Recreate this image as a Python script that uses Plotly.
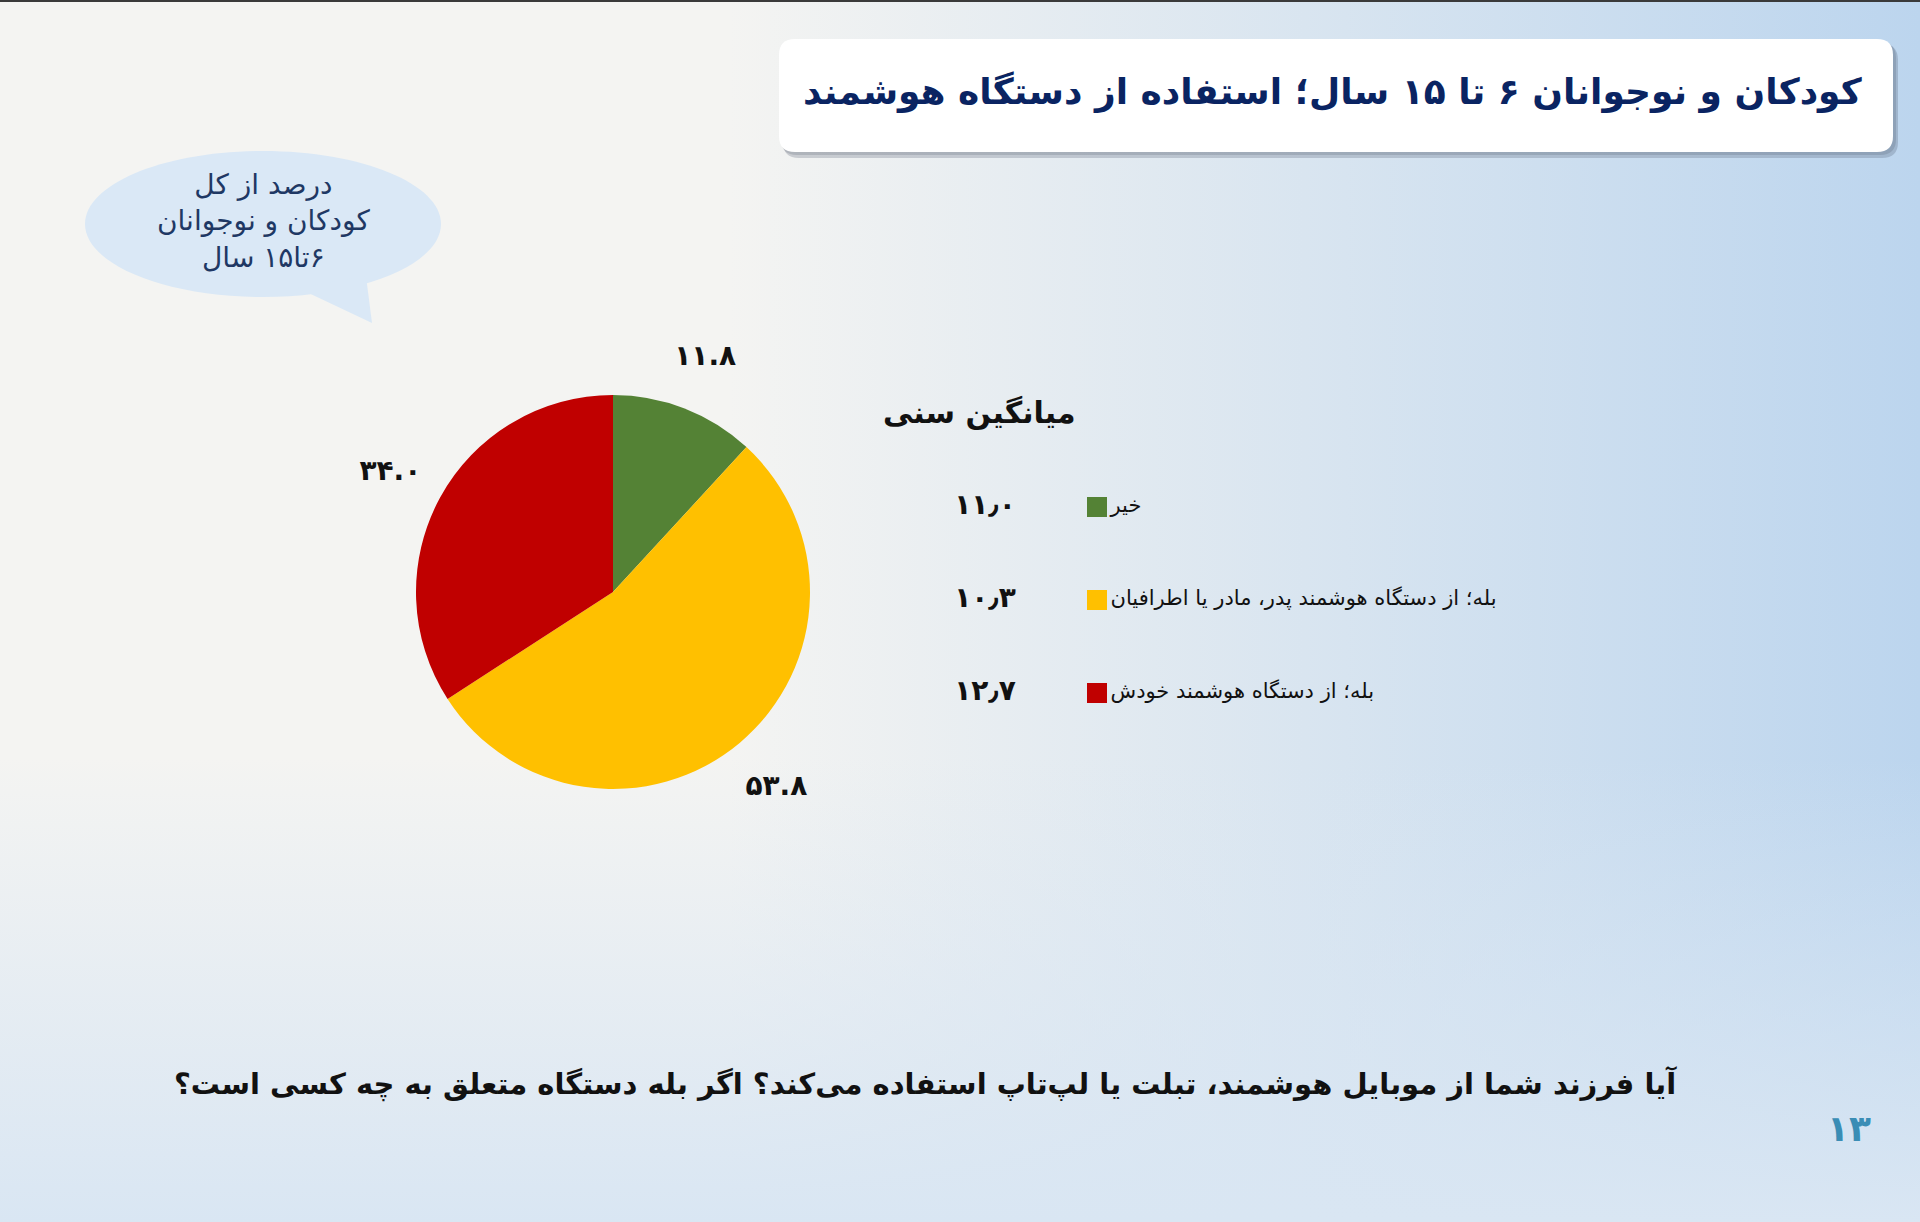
import base64
import plotly.graph_objects as go

# ---------------- data ----------------
categories = ["خیر", "بله؛ از دستگاه هوشمند پدر، مادر یا اطرافیان", "بله؛ از دستگاه هوشمند خودش"]
shares = [11.8, 53.8, 34.0]          # percent of all children aged 6-15
mean_age = [11.0, 10.3, 12.7]        # mean age per group
colors = ["#548235", "#FFC000", "#C00000"]

title_text = "کودکان و نوجوانان ۶ تا ۱۵ سال؛ استفاده از دستگاه هوشمند"
bubble_lines = ["درصد از کل", "کودکان و نوجوانان", "۶تا۱۵ سال"]
age_header = "میانگین سنی"
question_text = "آیا فرزند شما از موبایل هوشمند، تبلت یا لپ‌تاپ استفاده می‌کند؟ اگر بله دستگاه متعلق به چه کسی است؟"
page_number = "۱۳"

RLM = "\u200f"
FA = str.maketrans("0123456789", "۰۱۲۳۴۵۶۷۸۹")


def fa(s):
    return s.translate(FA)


pie_text = [fa(f"{v:.1f}") for v in shares]
age_text = [fa(f"{v:.1f}").replace(".", "٫") for v in mean_age]

W, H = 1920, 1222


def X(px):
    return px / W


def Y(py):
    return 1 - py / H


def rrect_path(x0, y0, x1, y1, r):
    pts = [
        ("M", (x0 + r, y0)), ("L", (x1 - r, y0)), ("Q", (x1, y0, x1, y0 + r)),
        ("L", (x1, y1 - r)), ("Q", (x1, y1, x1 - r, y1)), ("L", (x0 + r, y1)),
        ("Q", (x0, y1, x0, y1 - r)), ("L", (x0, y0 + r)), ("Q", (x0, y0, x0 + r, y0)),
    ]
    out = []
    for cmd, c in pts:
        conv = []
        for i in range(0, len(c), 2):
            conv.append(f"{X(c[i]):.5f},{Y(c[i+1]):.5f}")
        out.append(cmd + " ".join(conv))
    return " ".join(out) + " Z"


def ellipse_path(cx, cy, rx, ry):
    k = 0.5523
    segs = [
        ((cx + rx, cy), None),
        ((cx + rx, cy + k * ry), (cx + k * rx, cy + ry), (cx, cy + ry)),
        ((cx - k * rx, cy + ry), (cx - rx, cy + k * ry), (cx - rx, cy)),
        ((cx - rx, cy - k * ry), (cx - k * rx, cy - ry), (cx, cy - ry)),
        ((cx + k * rx, cy - ry), (cx + rx, cy - k * ry), (cx + rx, cy)),
    ]
    p = f"M{X(segs[0][0][0]):.5f},{Y(segs[0][0][1]):.5f}"
    for s in segs[1:]:
        p += " C" + " ".join(f"{X(a):.5f},{Y(b):.5f}" for a, b in s)
    return p + " Z"


def poly_path(points):
    return "M" + " L".join(f"{X(a):.5f},{Y(b):.5f}" for a, b in points) + " Z"


# ---------------- background ----------------
svg = f"""<svg xmlns='http://www.w3.org/2000/svg' width='{W}' height='{H}' preserveAspectRatio='none'>
<defs>
<linearGradient id='h' x1='0' y1='0' x2='1' y2='0'>
<stop offset='0' stop-color='#BCD5EE' stop-opacity='0'/>
<stop offset='0.38' stop-color='#BCD5EE' stop-opacity='0'/>
<stop offset='1' stop-color='#BCD5EE' stop-opacity='1'/>
</linearGradient>
<linearGradient id='v' x1='0' y1='0' x2='0' y2='1'>
<stop offset='0' stop-color='#D9E6F3' stop-opacity='0'/>
<stop offset='0.62' stop-color='#D9E6F3' stop-opacity='0'/>
<stop offset='1' stop-color='#D9E6F3' stop-opacity='1'/>
</linearGradient>
</defs>
<rect width='{W}' height='{H}' fill='#F4F4F2'/>
<rect width='{W}' height='{H}' fill='url(#h)'/>
<rect width='{W}' height='{H}' fill='url(#v)'/>
</svg>"""
bg_uri = "data:image/svg+xml;base64," + base64.b64encode(svg.encode()).decode()

fig = go.Figure()

# main pie
PC_X, PC_Y, PR = 613, 592, 197
fig.add_trace(go.Pie(
    labels=categories, values=shares, sort=False, direction="clockwise", rotation=0,
    marker=dict(colors=colors, line=dict(width=0)),
    textinfo="none", hoverinfo="label+percent", showlegend=False,
    domain=dict(x=[X(PC_X - PR), X(PC_X + PR)], y=[Y(PC_Y + PR), Y(PC_Y - PR)]),
))

# transparent ring carrying the value labels outside the pie
LR = 310
fig.add_trace(go.Pie(
    labels=categories, values=shares, sort=False, direction="clockwise", rotation=0,
    hole=PR / LR,
    marker=dict(colors=["rgba(0,0,0,0)"] * len(shares), line=dict(width=0)),
    text=pie_text, textinfo="text", textposition="inside", insidetextorientation="horizontal",
    insidetextfont=dict(family="DejaVu Sans", size=28, color="#111111", weight=700),
    hoverinfo="skip", showlegend=False,
    domain=dict(x=[X(PC_X - LR), X(PC_X + LR)], y=[Y(PC_Y + LR), Y(PC_Y - LR)]),
))

# legend-like rows with mean age
ROW0, ROWGAP = 507, 93
SWATCH_X, AGE_X = 1097, 985
fig.add_trace(go.Scatter(
    x=[SWATCH_X] * len(categories), y=categories, mode="markers+text",
    marker=dict(symbol="square", size=20, color=colors, line=dict(width=0)),
    text=categories, textposition="middle right",
    textfont=dict(family="DejaVu Sans", size=21, color="#111111"),
    xaxis="x2", yaxis="y2", hoverinfo="skip", showlegend=False, cliponaxis=False,
))
fig.add_trace(go.Scatter(
    x=[AGE_X] * len(categories), y=categories, mode="text",
    text=age_text, textposition="middle center",
    textfont=dict(family="DejaVu Sans", size=28, color="#111111", weight=700),
    xaxis="x2", yaxis="y2", hoverinfo="skip", showlegend=False, cliponaxis=False,
))

top = ROW0 - ROWGAP / 2
bot = ROW0 + ROWGAP * (len(categories) - 0.5)

shapes = [
    # top dark edge
    dict(type="rect", xref="paper", yref="paper", x0=0, x1=1, y0=Y(2), y1=1,
         fillcolor="#3A3A3A", line=dict(width=0), layer="above"),
    # title box shadow + box
    dict(type="path", xref="paper", yref="paper", path=rrect_path(783, 44, 1898, 158, 16),
         fillcolor="rgba(60,70,90,0.22)", line=dict(width=0), layer="below"),
    dict(type="path", xref="paper", yref="paper", path=rrect_path(781, 42, 1896, 155, 16),
         fillcolor="rgba(60,70,90,0.18)", line=dict(width=0), layer="below"),
    dict(type="path", xref="paper", yref="paper", path=rrect_path(779, 39, 1893, 152, 16),
         fillcolor="#FFFFFF", line=dict(width=0), layer="below"),
    # speech bubble
    dict(type="path", xref="paper", yref="paper", path=ellipse_path(263, 224, 178, 73),
         fillcolor="#DAE8F6", line=dict(width=0), layer="below"),
    dict(type="path", xref="paper", yref="paper",
         path=poly_path([(298, 288), (366, 276), (372, 323)]),
         fillcolor="#DAE8F6", line=dict(width=0), layer="below"),
]

annotations = [
    dict(text=title_text, x=X(1864), y=Y(92), xref="paper", yref="paper",
         xanchor="right", yanchor="middle", showarrow=False,
         font=dict(family="DejaVu Sans", size=36, color="#0A2462", weight=700)),
    dict(text="<br>".join(RLM + l + RLM for l in bubble_lines), x=X(263), y=Y(221),
         xref="paper", yref="paper", xanchor="center", yanchor="middle", align="center",
         showarrow=False, font=dict(family="DejaVu Sans", size=28, color="#1F3864")),
    dict(text=age_header, x=X(1078), y=Y(413), xref="paper", yref="paper",
         xanchor="right", yanchor="middle", showarrow=False,
         font=dict(family="DejaVu Sans", size=30, color="#111111", weight=700)),
    dict(text=RLM + question_text + RLM, x=X(925), y=Y(1084), xref="paper", yref="paper",
         xanchor="center", yanchor="middle", showarrow=False,
         font=dict(family="DejaVu Sans", size=29, color="#111111", weight=700)),
    dict(text=page_number, x=X(1849), y=Y(1128), xref="paper", yref="paper",
         xanchor="center", yanchor="middle", showarrow=False,
         font=dict(family="DejaVu Sans", size=36, color="#3A8DB5", weight=700)),
]

fig.update_layout(
    width=W, height=H,
    margin=dict(l=0, r=0, t=0, b=0),
    paper_bgcolor="#F4F4F2", plot_bgcolor="rgba(0,0,0,0)",
    images=[dict(source=bg_uri, xref="paper", yref="paper", x=0, y=1, sizex=1, sizey=1,
                 xanchor="left", yanchor="top", sizing="stretch", layer="below")],
    xaxis2=dict(domain=[0, 1], range=[0, W], visible=False, fixedrange=True, anchor="y2"),
    yaxis2=dict(domain=[Y(bot), Y(top)], type="category", categoryarray=categories,
                categoryorder="array", range=[len(categories) - 0.5, -0.5],
                visible=False, fixedrange=True, anchor="x2"),
    shapes=shapes, annotations=annotations,
    showlegend=False,
)

fig.write_html("out.html", config={"displayModeBar": False})
